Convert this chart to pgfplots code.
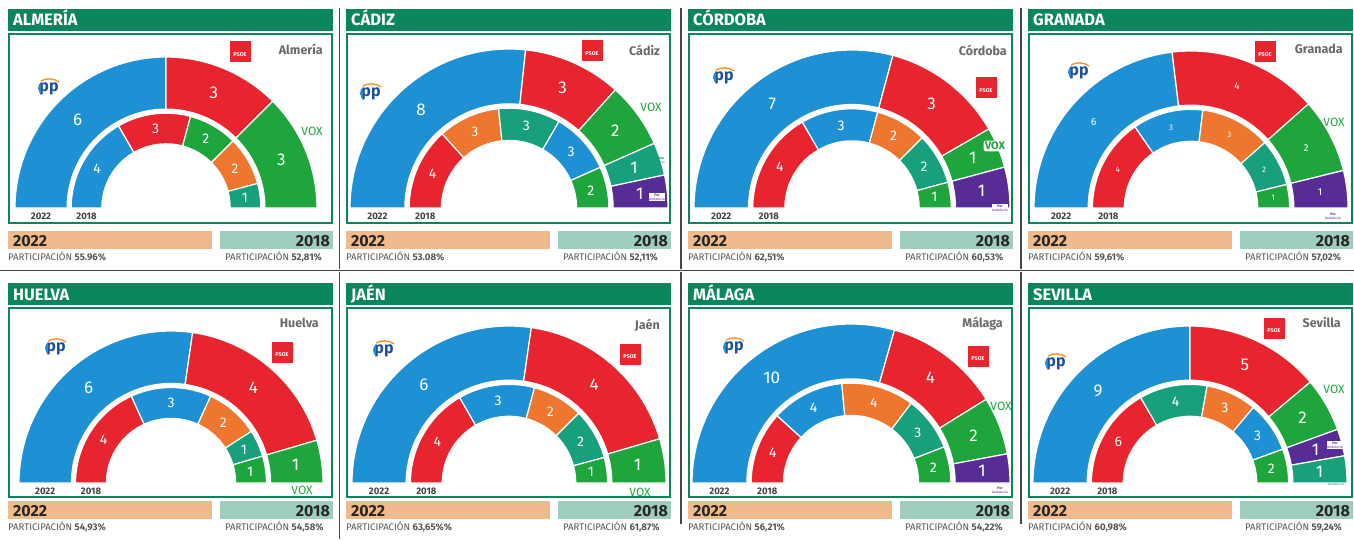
\documentclass[border=0pt]{standalone}
\usepackage{fontspec}
\setmainfont{Fira Sans}
\usepackage{pgfplots}
\pgfplotsset{compat=1.18}
\definecolor{ppblue}{RGB}{30,145,212}
\definecolor{ppnavy}{RGB}{30,80,160}
\definecolor{pporange}{RGB}{240,150,40}
\definecolor{psoered}{RGB}{232,36,46}
\definecolor{voxgreen}{RGB}{30,165,60}
\definecolor{csorange}{RGB}{238,118,46}
\definecolor{adelteal}{RGB}{24,160,125}
\definecolor{porpurple}{RGB}{88,44,150}
\definecolor{hdr}{RGB}{10,135,90}
\definecolor{bar22}{RGB}{240,186,140}
\definecolor{bar18}{RGB}{160,206,190}
\definecolor{parttxt}{RGB}{85,85,85}
\definecolor{placegray}{RGB}{105,105,105}
\definecolor{sepgray}{RGB}{70,70,70}
\tikzset{
 olbl/.style={text=white,font=\fontsize{17}{17}\selectfont},
 ilbl/.style={text=white,font=\fontsize{14}{14}\selectfont},
 oslbl/.style={text=white,font=\fontsize{10}{10}\selectfont},
 islbl/.style={text=white,font=\fontsize{8}{8}\selectfont},
 yrlbl/.style={text=black!75,font=\bfseries\fontsize{9.5}{9.5}\selectfont}
}
% one ring: #1 inner radius, #2 outer radius, #3 total seats, #4 seats/colour list, #5 label style
\newcommand\ring[5]{%
  \gdef\cum{0}%
  \foreach \nn/\col in {#4}{%
    \pgfmathsetmacro\aone{180-180*\cum/#3}%
    \pgfmathsetmacro\atwo{180-180*(\cum+\nn)/#3}%
    \pgfmathsetmacro\dA{\aone-\atwo}%
    \pgfmathsetmacro\amid{(\aone+\atwo)/2}%
    \pgfmathsetmacro\rmid{(#1+#2)/2}%
    \pgfmathsetmacro\lx{\rmid*cos(\amid)}%
    \pgfmathsetmacro\ly{\rmid*sin(\amid)}%
    \edef\cmd{\noexpand\addplot[fill=\col,draw=white,line width=1.2pt,samples at={0,1,...,40,50,51,...,90,100}] ({ifthenelse(x<45,#2,ifthenelse(x<95,#1,#2))*cos(ifthenelse(x<45,\aone-\dA*x/40,ifthenelse(x<95,\atwo+\dA*(x-50)/40,\aone)))},{ifthenelse(x<45,#2,ifthenelse(x<95,#1,#2))*sin(ifthenelse(x<45,\aone-\dA*x/40,ifthenelse(x<95,\atwo+\dA*(x-50)/40,\aone)))});\noexpand\node[#5] at (axis cs:\lx,\ly) {\nn};}%
    \cmd
    \pgfmathsetmacro\newcum{\cum+\nn}\xdef\cum{\newcum}%
  }%
}
% #1 R, #2 total 2022, #3 list 2022, #4 total 2018, #5 list 2018, #6 outer style, #7 inner style
\newcommand\hemi[7]{%
  \pgfmathsetmacro\rA{#1}\pgfmathsetmacro\rB{0.655*#1}\pgfmathsetmacro\rC{0.628*#1}\pgfmathsetmacro\rD{0.425*#1}%
  \ring{\rB}{\rA}{#2}{#3}{#6}%
  \ring{\rD}{\rC}{#4}{#5}{#7}%
  \pgfmathsetmacro\yx{-(\rA+\rB)/2}\pgfmathsetmacro\yxx{-(\rC+\rD)/2}%
  \edef\cmd{\noexpand\node[yrlbl] at (axis cs:\yx,-8) {2022};\noexpand\node[yrlbl] at (axis cs:\yxx,-8) {2018};}\cmd
}
% frame: #1 x0, #2 header top, #3 bar top, #4 name, #5 part 2022, #6 part 2018
\newcommand\pframe[6]{%
 \fill[hdr] (#1,#2) rectangle (#1+325,#2-22);
 \node[anchor=base west,inner sep=0,text=white,font=\bfseries\fontsize{16.5}{16.5}\selectfont] at (#1+5,#2-17) {#4};
 \draw[hdr,line width=1.6] (#1+0.8,#2-24.8) rectangle (#1+324.2,#2-214.2);
 \fill[bar22] (#1,#3) rectangle (#1+204,#3-18);
 \fill[bar18] (#1+212,#3) rectangle (#1+325,#3-18);
 \node[anchor=base west,inner sep=0,text=black!85,font=\bfseries\fontsize{16}{16}\selectfont] at (#1+5,#3-15) {2022};
 \node[anchor=base east,inner sep=0,text=black!85,font=\bfseries\fontsize{16}{16}\selectfont] at (#1+322,#3-15) {2018};
 \node[anchor=base west,inner sep=0,text=parttxt,font=\fontsize{9.6}{9.6}\selectfont] at (#1,#3-29.5) {PARTICIPACIÓN \textbf{#5}};
 \node[anchor=base west,inner sep=0,text=parttxt,font=\fontsize{9.6}{9.6}\selectfont] at (#1+217,#3-29.5) {PARTICIPACIÓN \textbf{#6}};
}
\newcommand\pplogo[2]{%
 \node[inner sep=0,text=ppnavy,font=\bfseries\fontsize{16}{16}\selectfont] at (#1+3,#2-1) {pp};
 \draw[ppblue,line width=1.8] (#1-6,#2+4) arc[start angle=150,end angle=215,radius=8];
 \draw[pporange,line width=1.4] (#1-5,#2+7) .. controls (#1,#2+10) and (#1+8,#2+10) .. (#1+13,#2+6);
}
\newcommand\psoelogo[2]{%
 \fill[psoered] (#1-10.5,#2-10.5) rectangle (#1+10.5,#2+10.5);
 \node[inner sep=0,text=white,font=\bfseries\fontsize{5.5}{5.5}\selectfont] at (#1,#2-3) {PSOE};
}
\newcommand\voxlogo[2]{\node[inner sep=0,text=voxgreen,font=\fontsize{12}{12}\selectfont] at (#1,#2) {VOX};}
\newcommand\voxbox[2]{\node[inner sep=1.5,fill=white,rounded corners=3,text=voxgreen,font=\bfseries\fontsize{11}{11}\selectfont] at (#1,#2) {VOX};}
\newcommand\place[3]{\node[anchor=east,inner sep=0,text=placegray,font=\bfseries\fontsize{12.5}{12.5}\selectfont] at (#1,#2) {#3};}
\newcommand\adlogo[2]{\node[inner sep=0,align=center,text=adelteal,font=\fontsize{3.5}{4}\selectfont] at (#1,#2) {\textbf{Adelante}\\Andalucía};}
\newcommand\porlogo[2]{\node[inner sep=0.5,fill=white,align=center,text=porpurple,font=\fontsize{3.5}{4}\selectfont] at (#1,#2) {\textbf{Por}\\Andalucía};}
\begin{document}
\begin{tikzpicture}[x=1pt,y=1pt]
\path[use as bounding box] (0,0) rectangle (1354,539);
% separators
\draw[sepgray,line width=1.2] (339.5,531) -- (339.5,270);
\draw[sepgray,line width=1.2] (681,531) -- (681,270);
\draw[sepgray,line width=1.2] (1021,531) -- (1021,270);
\draw[sepgray,line width=1.2] (0,268.5) -- (1354,268.5);
\draw[sepgray,line width=1.2] (339.5,267) -- (339.5,0);
\draw[sepgray,line width=1.2] (681,267) -- (681,15);
\draw[sepgray,line width=1.2] (1021,267) -- (1021,15);
% frames
\pframe{8}{530}{308}{ALMERÍA}{55.96\%}{52,81\%}
\pframe{346}{530}{308}{CÁDIZ}{53.08\%}{52,11\%}
\pframe{688}{530}{308}{CÓRDOBA}{62,51\%}{60,53\%}
\pframe{1028}{530}{308}{GRANADA}{59,61\%}{57,02\%}
\pframe{8}{256}{38}{HUELVA}{54,93\%}{54,58\%}
\pframe{346}{256}{38}{JAÉN}{63,65\%\%}{61,87\%}
\pframe{688}{256}{38}{MÁLAGA}{56,21\%}{54,22\%}
\pframe{1028}{256}{38}{SEVILLA}{60,98\%}{59,24\%}
% Almería
\begin{axis}[x=1pt,y=1pt,hide axis,clip=false,anchor=south west,at={(8pt,315pt)},xmin=-158,xmax=167,ymin=-16,ymax=175]
\hemi{151}{12}{6/ppblue,3/psoered,3/voxgreen}{12}{4/ppblue,3/psoered,2/voxgreen,2/csorange,1/adelteal}{olbl}{ilbl}
\end{axis}
% Cádiz
\begin{axis}[x=1pt,y=1pt,hide axis,clip=false,anchor=south west,at={(346pt,315pt)},xmin=-163,xmax=162,ymin=-16,ymax=175]
\hemi{159}{15}{8/ppblue,3/psoered,2/voxgreen,1/adelteal,1/porpurple}{15}{4/psoered,3/csorange,3/adelteal,3/ppblue,2/voxgreen}{olbl}{ilbl}
\end{axis}
% Córdoba
\begin{axis}[x=1pt,y=1pt,hide axis,clip=false,anchor=south west,at={(688pt,315pt)},xmin=-164,xmax=161,ymin=-16,ymax=175]
\hemi{158}{12}{7/ppblue,3/psoered,1/voxgreen,1/porpurple}{12}{4/psoered,3/ppblue,2/csorange,2/adelteal,1/voxgreen}{olbl}{ilbl}
\end{axis}
% Granada
\begin{axis}[x=1pt,y=1pt,hide axis,clip=false,anchor=south west,at={(1028pt,315pt)},xmin=-163,xmax=162,ymin=-16,ymax=175]
\hemi{157}{13}{6/ppblue,4/psoered,2/voxgreen,1/porpurple}{13}{4/psoered,3/ppblue,3/csorange,2/adelteal,1/voxgreen}{oslbl}{islbl}
\end{axis}
% Huelva
\begin{axis}[x=1pt,y=1pt,hide axis,clip=false,anchor=south west,at={(8pt,41pt)},xmin=-163,xmax=162,ymin=-15,ymax=176]
\hemi{152}{11}{6/ppblue,4/psoered,1/voxgreen}{11}{4/psoered,3/ppblue,2/csorange,1/adelteal,1/voxgreen}{olbl}{ilbl}
\end{axis}
% Jaén
\begin{axis}[x=1pt,y=1pt,hide axis,clip=false,anchor=south west,at={(346pt,41pt)},xmin=-163,xmax=162,ymin=-15,ymax=176]
\hemi{157}{11}{6/ppblue,4/psoered,1/voxgreen}{12}{4/psoered,3/ppblue,2/csorange,2/adelteal,1/voxgreen}{olbl}{ilbl}
\end{axis}
% Málaga
\begin{axis}[x=1pt,y=1pt,hide axis,clip=false,anchor=south west,at={(688pt,41pt)},xmin=-163,xmax=162,ymin=-15,ymax=176]
\hemi{159}{17}{10/ppblue,4/psoered,2/voxgreen,1/porpurple}{17}{4/psoered,4/ppblue,4/csorange,3/adelteal,2/voxgreen}{olbl}{ilbl}
\end{axis}
% Sevilla
\begin{axis}[x=1pt,y=1pt,hide axis,clip=false,anchor=south west,at={(1028pt,41pt)},xmin=-162,xmax=163,ymin=-15,ymax=176]
\hemi{157}{18}{9/ppblue,5/psoered,2/voxgreen,1/porpurple,1/adelteal}{18}{6/psoered,4/adelteal,3/csorange,3/ppblue,2/voxgreen}{olbl}{ilbl}
\end{axis}
% logos and place names
\pplogo{46}{451}\pplogo{368}{446}\pplogo{721}{462}\pplogo{1076}{467}
\pplogo{53}{191}\pplogo{381}{189}\pplogo{731}{192}\pplogo{1053}{176}
\psoelogo{240}{487}\psoelogo{592}{488}\psoelogo{986}{451}\psoelogo{1265}{487}
\psoelogo{282}{187}\psoelogo{630}{185}\psoelogo{978}{183}\psoelogo{1274}{211}
\place{323}{490}{Almería}\place{660}{489}{Cádiz}\place{1007}{489}{Córdoba}\place{1343}{490}{Granada}
\place{319}{216}{Huelva}\place{660}{214}{Jaén}\place{1003}{215}{Málaga}\place{1341}{216}{Sevilla}
\voxlogo{312}{408}\voxlogo{651}{432}\voxbox{995}{393}\voxlogo{1334}{417}
\voxlogo{302}{49}\voxlogo{640}{47}\voxlogo{1001}{133}\voxlogo{1334}{150}
\adlogo{657}{379}\porlogo{657}{342}\porlogo{1000}{331}\porlogo{1333}{323}
\porlogo{1000}{49}\porlogo{1335}{94}\adlogo{1336}{57}
\end{tikzpicture}
\end{document}
